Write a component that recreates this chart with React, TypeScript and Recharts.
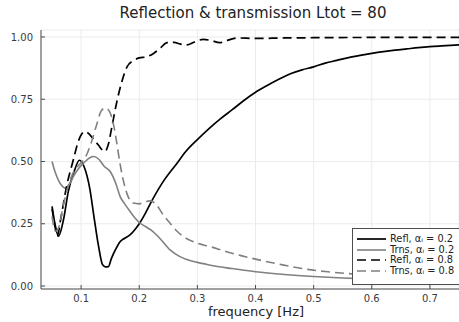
import { LineChart, Line, XAxis, YAxis, CartesianGrid } from 'recharts';

const BLACK = '#000000';
const GRAY = '#808080';
const AXIS = '#4d4d4d';
const TICK_TEXT = '#3a3a3a';
const GRID = '#ebebeb';
const FONT = "'DejaVu Sans', sans-serif";

const X_TICKS = [0.1, 0.2, 0.3, 0.4, 0.5, 0.6, 0.7];
const Y_TICKS = [0, 0.25, 0.5, 0.75, 1];

// Refl, alpha = 0.2
const reflLowF = [0.05, 0.055, 0.061, 0.07, 0.078, 0.088, 0.097, 0.105, 0.115, 0.122, 0.13, 0.137, 0.142, 0.147, 0.152, 0.16, 0.167, 0.175, 0.184, 0.192, 0.2, 0.21, 0.22, 0.24, 0.265, 0.28, 0.3, 0.32, 0.34, 0.36, 0.38, 0.4, 0.42, 0.44, 0.46, 0.48, 0.5, 0.52, 0.54, 0.56, 0.58, 0.6, 0.62, 0.64, 0.66, 0.68, 0.7, 0.72, 0.75];
const reflLowV = [0.32, 0.25, 0.2, 0.27, 0.38, 0.46, 0.505, 0.48, 0.39, 0.28, 0.16, 0.085, 0.077, 0.078, 0.11, 0.15, 0.178, 0.192, 0.205, 0.225, 0.25, 0.29, 0.335, 0.415, 0.493, 0.54, 0.588, 0.632, 0.672, 0.708, 0.745, 0.778, 0.805, 0.83, 0.852, 0.868, 0.88, 0.895, 0.906, 0.917, 0.926, 0.934, 0.941, 0.947, 0.952, 0.957, 0.961, 0.964, 0.968];

// Trns, alpha = 0.2
const trnsLowF = [0.05, 0.055, 0.062, 0.068, 0.073, 0.08, 0.088, 0.095, 0.105, 0.115, 0.122, 0.13, 0.14, 0.15, 0.16, 0.167, 0.175, 0.184, 0.192, 0.2, 0.21, 0.22, 0.236, 0.253, 0.27, 0.29, 0.31, 0.33, 0.36, 0.4, 0.45, 0.5, 0.55, 0.6, 0.65, 0.7, 0.75];
const trnsLowV = [0.5, 0.46, 0.42, 0.4, 0.393, 0.41, 0.445, 0.47, 0.495, 0.515, 0.52, 0.51, 0.48, 0.46, 0.41, 0.36, 0.33, 0.3, 0.275, 0.255, 0.24, 0.225, 0.19, 0.145, 0.118, 0.1, 0.09, 0.08, 0.07, 0.057, 0.046, 0.038, 0.032, 0.028, 0.025, 0.022, 0.02];

// Refl, alpha = 0.8
const reflHighF = [0.05, 0.055, 0.059, 0.065, 0.075, 0.087, 0.095, 0.101, 0.107, 0.114, 0.121, 0.13, 0.137, 0.141, 0.147, 0.153, 0.161, 0.17, 0.179, 0.19, 0.2, 0.212, 0.224, 0.236, 0.248, 0.26, 0.27, 0.282, 0.295, 0.31, 0.325, 0.338, 0.35, 0.368, 0.4, 0.45, 0.5, 0.6, 0.75];
const reflHighV = [0.31, 0.24, 0.2, 0.27, 0.4, 0.51, 0.58, 0.61, 0.62, 0.61, 0.59, 0.565, 0.545, 0.54, 0.57, 0.64, 0.735, 0.82, 0.88, 0.905, 0.916, 0.92, 0.933, 0.955, 0.977, 0.978, 0.972, 0.968, 0.98, 0.99, 0.985, 0.977, 0.985, 0.996, 0.994, 0.996, 0.997, 0.998, 0.998];

// Trns, alpha = 0.8
const trnsHighF = [0.05, 0.056, 0.062, 0.07, 0.081, 0.09, 0.098, 0.108, 0.118, 0.127, 0.135, 0.142, 0.149, 0.156, 0.161, 0.167, 0.173, 0.179, 0.19, 0.2, 0.21, 0.219, 0.23, 0.24, 0.253, 0.265, 0.282, 0.3, 0.322, 0.35, 0.375, 0.4, 0.44, 0.48, 0.52, 0.56, 0.6, 0.65, 0.7, 0.75];
const trnsHighV = [0.28, 0.22, 0.24, 0.33, 0.425, 0.47, 0.49, 0.52, 0.58, 0.65, 0.705, 0.715, 0.7, 0.645, 0.58, 0.49, 0.42, 0.37, 0.333, 0.33, 0.338, 0.342, 0.325, 0.29, 0.252, 0.22, 0.19, 0.172, 0.158, 0.138, 0.122, 0.108, 0.088, 0.07, 0.058, 0.05, 0.043, 0.036, 0.03, 0.025];

const toPoints = (fs: number[], vs: number[]) => fs.map((f, i) => ({ f, v: vs[i] }));

const SERIES = [
  { name: 'Refl, αᵢ = 0.2', data: toPoints(reflLowF, reflLowV), color: BLACK, width: 1.7, dash: undefined },
  { name: 'Trns, αᵢ = 0.2', data: toPoints(trnsLowF, trnsLowV), color: GRAY, width: 1.6, dash: undefined },
  { name: 'Refl, αᵢ = 0.8', data: toPoints(reflHighF, reflHighV), color: BLACK, width: 1.7, dash: '9 5' },
  { name: 'Trns, αᵢ = 0.8', data: toPoints(trnsHighF, trnsHighV), color: GRAY, width: 1.6, dash: '9 5' },
];

function LegendBox() {
  return (
    <div style={{
      position: 'absolute', left: 352, top: 228, width: 103, height: 50,
      background: '#fff', border: `1px solid ${AXIS}`, padding: '5px 0 0 4px',
      fontFamily: FONT, fontSize: 9.8, color: '#222',
    }}>
      {SERIES.map(s => (
        <div key={s.name} style={{ display: 'flex', alignItems: 'center', height: 10.5, lineHeight: '10px' }}>
          <svg width={29} height={6} style={{ marginRight: 4, flex: 'none' }}>
            <line x1={0} y1={3} x2={29} y2={3} stroke={s.color} strokeWidth={s.width} strokeDasharray={s.dash} />
          </svg>
          <span style={{ whiteSpace: 'nowrap' }}>{s.name}</span>
        </div>
      ))}
    </div>
  );
}

export default function App() {
  return (
    <div style={{ position: 'absolute', left: 0, top: 0, width: 459, height: 322, background: '#fff', fontFamily: FONT }}>
      <div style={{ position: 'absolute', left: 0, width: 506, top: 4, textAlign: 'center', fontSize: 15, color: '#222' }}>
        Reflection &amp; transmission Ltot = 80
      </div>
      <LineChart width={459} height={322} margin={{ top: 30, right: 0, bottom: 0, left: 0 }}>
        <CartesianGrid stroke={GRID} strokeWidth={1} />
        <XAxis
          type="number" dataKey="f" domain={[0.031, 0.75]} ticks={X_TICKS} allowDataOverflow
          height={33} tickSize={-4} tickMargin={10}
          tick={{ fill: TICK_TEXT, fontSize: 10, fontFamily: FONT }}
          stroke={AXIS} tickFormatter={(v: number) => v.toFixed(1)}
        />
        <YAxis
          type="number" domain={[-0.012, 1.028]} ticks={Y_TICKS} allowDataOverflow
          width={41} tickSize={-4} tickMargin={12}
          tick={{ fill: TICK_TEXT, fontSize: 10, fontFamily: FONT }}
          stroke={AXIS} tickFormatter={(v: number) => v.toFixed(2)}
        />
        {SERIES.map(s => (
          <Line
            key={s.name} data={s.data} dataKey="v" name={s.name} type="monotone"
            stroke={s.color} strokeWidth={s.width} strokeDasharray={s.dash}
            dot={false} activeDot={false} isAnimationActive={false}
          />
        ))}
      </LineChart>
      <LegendBox />
      <div style={{ position: 'absolute', left: 41, width: 430, top: 304, textAlign: 'center', fontSize: 13, color: '#222' }}>
        frequency [Hz]
      </div>
    </div>
  );
}
